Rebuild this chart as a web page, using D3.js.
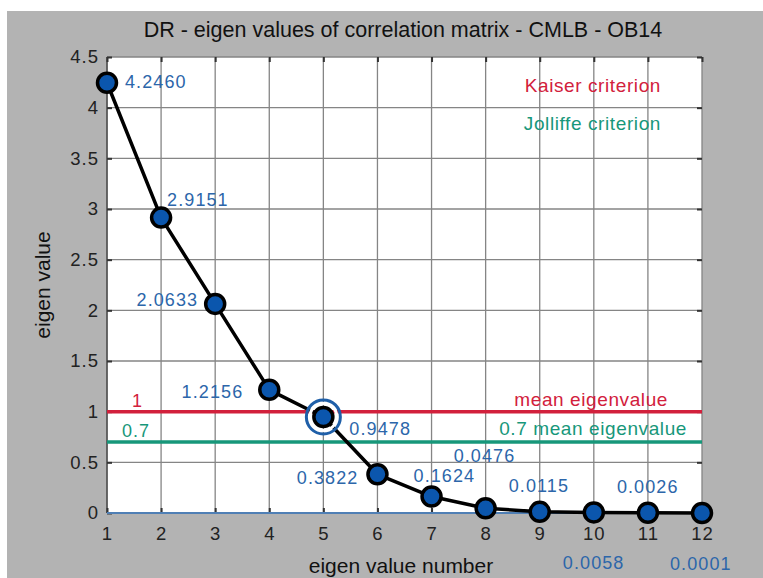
<!DOCTYPE html>
<html>
<head>
<meta charset="utf-8">
<script src="https://cdn.jsdelivr.net/npm/d3@7"></script>
<style>
  html, body { margin: 0; padding: 0; background: #ffffff; }
  svg { display: block; font-family: "Liberation Sans", Arial, sans-serif; }
</style>
</head>
<body>
<svg id="chart" width="763" height="578"></svg>
<script>
// Eigenvalues of the correlation matrix (scree plot)
const components = [1, 2, 3, 4, 5, 6, 7, 8, 9, 10, 11, 12];
const eigenvalues = [4.2460, 2.9151, 2.0633, 1.2156, 0.9478, 0.3822, 0.1624, 0.0476, 0.0115, 0.0058, 0.0026, 0.0001];
const valueLabels = ["4.2460", "2.9151", "2.0633", "1.2156", "0.9478", "0.3822", "0.1624", "0.0476", "0.0115", "0.0058", "0.0026", "0.0001"];
const xTicks = [1, 2, 3, 4, 5, 6, 7, 8, 9, 10, 11, 12];
const yTicks = [0, 0.5, 1, 1.5, 2, 2.5, 3, 3.5, 4, 4.5];
const kaiserLevel = 1;
const jolliffeLevel = 0.7;
const selectedComponent = 5;

const svg = d3.select("#chart");
const W = 763, H = 578;
const plot = { left: 107, right: 702, top: 57, bottom: 513 };

const x = d3.scaleLinear().domain([1, 12]).range([plot.left, plot.right]);
const y = d3.scaleLinear().domain([0, 4.5]).range([plot.bottom, plot.top]);

// figure background
svg.append("rect").attr("x", 7).attr("y", 11).attr("width", W - 7).attr("height", H - 11).attr("fill", "#b3b3b3");
// axes background
svg.append("rect").attr("x", plot.left).attr("y", plot.top)
  .attr("width", plot.right - plot.left).attr("height", plot.bottom - plot.top).attr("fill", "#ffffff");

// grid
const gridColor = "#858585";
svg.append("g").selectAll("line").data(xTicks).join("line")
  .attr("x1", d => x(d)).attr("x2", d => x(d))
  .attr("y1", plot.top).attr("y2", plot.bottom)
  .attr("stroke", gridColor).attr("stroke-width", 1.3);
svg.append("g").selectAll("line").data(yTicks).join("line")
  .attr("x1", plot.left).attr("x2", plot.right)
  .attr("y1", d => y(d)).attr("y2", d => y(d))
  .attr("stroke", gridColor).attr("stroke-width", 1.3);

// axis frame
svg.append("line").attr("x1", plot.left).attr("x2", plot.left).attr("y1", plot.top).attr("y2", plot.bottom)
  .attr("stroke", "#444").attr("stroke-width", 1.3);

const tickFont = 18.5;
// y axis with inward ticks
const yAxis = d3.axisLeft(y).tickValues(yTicks).tickSize(-5).tickPadding(8)
  .tickFormat(d => d3.format("")(d));
const gy = svg.append("g").attr("transform", `translate(${plot.left},0)`).call(yAxis);
gy.select(".domain").remove();
gy.selectAll(".tick line").attr("stroke", "#333").attr("stroke-width", 2);
gy.selectAll(".tick text").attr("font-size", tickFont).attr("fill", "#222").attr("letter-spacing", 1)
  .attr("font-family", "Liberation Sans, Arial, sans-serif");

// right-side ticks
const yAxisR = d3.axisRight(y).tickValues(yTicks).tickSize(-5).tickFormat("");
const gyr = svg.append("g").attr("transform", `translate(${plot.right},0)`).call(yAxisR);
gyr.select(".domain").remove();
gyr.selectAll(".tick line").attr("stroke", "#333").attr("stroke-width", 2);

// x axis with inward ticks
const xAxis = d3.axisBottom(x).tickValues(xTicks).tickSize(-5).tickPadding(14).tickFormat(d3.format("d"));
const gx = svg.append("g").attr("transform", `translate(0,${plot.bottom})`).call(xAxis);
gx.select(".domain").remove();
gx.selectAll(".tick line").attr("stroke", "#333").attr("stroke-width", 2);
gx.selectAll(".tick text").attr("font-size", tickFont).attr("fill", "#222").attr("letter-spacing", 1)
  .attr("font-family", "Liberation Sans, Arial, sans-serif");

const xAxisT = d3.axisTop(x).tickValues(xTicks).tickSize(-5).tickFormat("");
const gxt = svg.append("g").attr("transform", `translate(0,${plot.top})`).call(xAxisT);
gxt.select(".domain").remove();
gxt.selectAll(".tick line").attr("stroke", "#333").attr("stroke-width", 2);

// criterion lines
const red = "#d2203c", green = "#17977a", blue = "#1f5fa8";
svg.append("line").attr("x1", x(1)).attr("x2", x(12)).attr("y1", y(kaiserLevel)).attr("y2", y(kaiserLevel))
  .attr("stroke", red).attr("stroke-width", 3.5);
svg.append("line").attr("x1", x(1)).attr("x2", x(12)).attr("y1", y(jolliffeLevel)).attr("y2", y(jolliffeLevel))
  .attr("stroke", green).attr("stroke-width", 3.5);
// zero reference line
svg.append("line").attr("x1", x(1)).attr("x2", x(12)).attr("y1", y(0)).attr("y2", y(0))
  .attr("stroke", "#4f7fb5").attr("stroke-width", 2.2);

// scree line
const line = d3.line().x((d, i) => x(components[i])).y(d => y(d));
svg.append("path").datum(eigenvalues).attr("d", line)
  .attr("fill", "none").attr("stroke", "#000").attr("stroke-width", 3.5).attr("stroke-linejoin", "round");

// highlight ring around the selected component
const si = components.indexOf(selectedComponent);
svg.append("circle").attr("cx", x(components[si])).attr("cy", y(eigenvalues[si])).attr("r", 13.5)
  .attr("fill", "none").attr("stroke", "#ffffff").attr("stroke-width", 3);
svg.append("circle").attr("cx", x(components[si])).attr("cy", y(eigenvalues[si])).attr("r", 17)
  .attr("fill", "none").attr("stroke", blue).attr("stroke-width", 3);

// markers
svg.append("g").selectAll("circle").data(eigenvalues).join("circle")
  .attr("cx", (d, i) => x(components[i])).attr("cy", d => y(d)).attr("r", 9.5)
  .attr("fill", "#0b56ad").attr("stroke", "#000").attr("stroke-width", 3.5);

// value labels: offsets relative to each point
const labelOffsets = [
  [18, 5, "start"], [6, -12, "start"], [-17, 2, "end"], [-26, 8, "end"],
  [26, 18, "start"], [-19, 10, "end"], [-18, -15, "start"], [-32, -46, "start"],
  [-31, -20, "start"], [-31, 57, "start"], [-31, -20, "start"], [-32, 57, "start"]
];
svg.append("g").selectAll("text").data(eigenvalues).join("text")
  .attr("x", (d, i) => x(components[i]) + labelOffsets[i][0])
  .attr("y", (d, i) => y(d) + labelOffsets[i][1])
  .attr("text-anchor", (d, i) => labelOffsets[i][2])
  .attr("font-size", 18).attr("letter-spacing", 1.1).attr("fill", "#2c66aa")
  .text((d, i) => valueLabels[i]);

// criterion annotations
svg.append("text").attr("x", 137).attr("y", y(kaiserLevel) - 5).attr("text-anchor", "middle")
  .attr("font-size", 18).attr("fill", red).text("1");
svg.append("text").attr("x", 122).attr("y", y(jolliffeLevel) - 5)
  .attr("font-size", 18).attr("letter-spacing", 1).attr("fill", green).text("0.7");
svg.append("text").attr("x", 668).attr("y", y(kaiserLevel) - 6).attr("text-anchor", "end")
  .attr("font-size", 19).attr("letter-spacing", 0.6).attr("fill", red).text("mean eigenvalue");
svg.append("text").attr("x", 687).attr("y", y(jolliffeLevel) - 7).attr("text-anchor", "end")
  .attr("font-size", 19).attr("letter-spacing", 0.6).attr("fill", green).text("0.7 mean eigenvalue");
svg.append("text").attr("x", 661).attr("y", 92).attr("text-anchor", "end")
  .attr("font-size", 19).attr("letter-spacing", 0.6).attr("fill", red).text("Kaiser criterion");
svg.append("text").attr("x", 661).attr("y", 130).attr("text-anchor", "end")
  .attr("font-size", 19).attr("letter-spacing", 0.6).attr("fill", green).text("Jolliffe criterion");

// title and axis labels
svg.append("text").attr("x", 403).attr("y", 37).attr("text-anchor", "middle")
  .attr("font-size", 21.5).attr("fill", "#111").text("DR - eigen values of correlation matrix - CMLB - OB14");
svg.append("text").attr("x", 401).attr("y", 573).attr("text-anchor", "middle")
  .attr("font-size", 21).attr("fill", "#111").text("eigen value number");
svg.append("text").attr("transform", `translate(50,${(plot.top + plot.bottom) / 2}) rotate(-90)`)
  .attr("text-anchor", "middle").attr("font-size", 21).attr("fill", "#111").text("eigen value");
</script>
</body>
</html>
